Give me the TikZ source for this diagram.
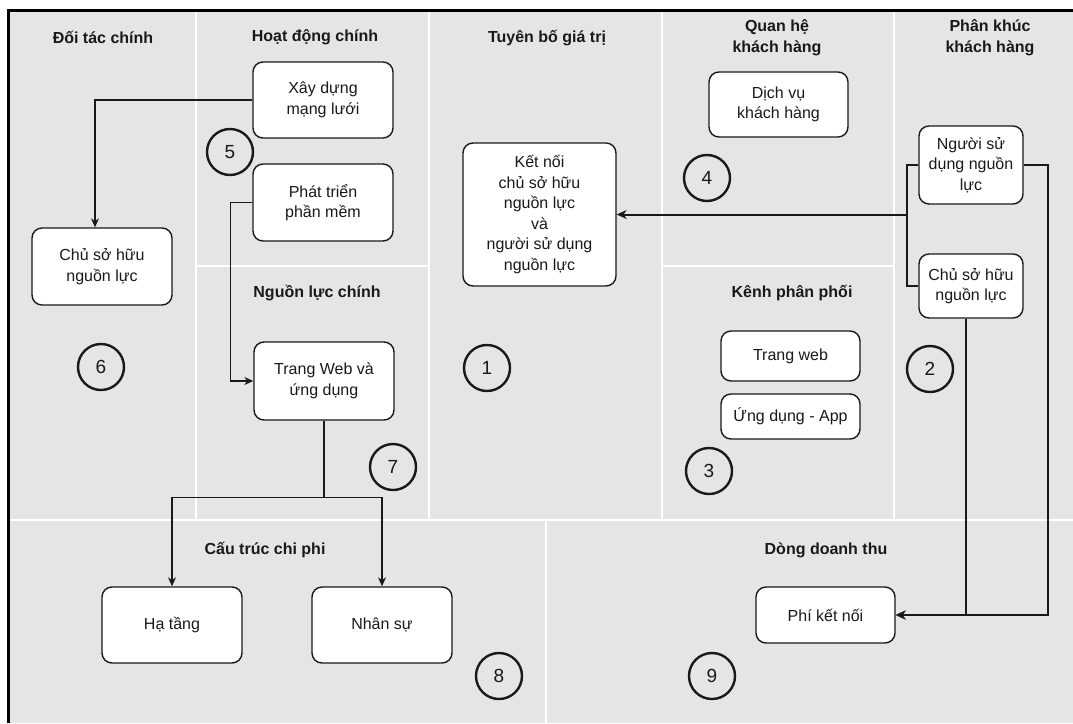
\documentclass[tikz,border=0pt]{standalone}
\usepackage{fontspec}
\setmainfont{Liberation Sans}
\usetikzlibrary{arrows.meta}
\definecolor{panel}{RGB}{229,229,229}
\definecolor{ink}{RGB}{25,25,25}
\tikzset{
  box/.style={draw=ink, fill=white, rounded corners=10pt, line width=1.4pt, align=center, inner sep=0pt, text=ink, font=\fontsize{16}{20.5}\selectfont},
  num/.style={draw=ink, circle, line width=2.4pt, minimum size=46pt, inner sep=0pt, text=ink, font=\fontsize{19}{22}\selectfont},
  ttl/.style={align=center, text=ink, font=\bfseries\fontsize{16}{21}\selectfont},
  sep/.style={white, line width=1.5pt},
  conn/.style={draw=ink, line width=1.3pt, -{Stealth[length=9pt,width=8pt]}},
  thickconn/.style={draw=ink, line width=2pt, -{Stealth[length=10pt,width=9pt]}},
  plain/.style={draw=ink, line width=2pt}
}
\begin{document}
\begin{tikzpicture}[x=1pt,y=-1pt]
\useasboundingbox (0,0) rectangle (1073,723);
\fill[white] (0,0) rectangle (1073,723);
\fill[panel] (8,10) rectangle (1073,723);
% separators
\draw[sep] (196,10) -- (196,520);
\draw[sep] (429,10) -- (429,520);
\draw[sep] (662,10) -- (662,520);
\draw[sep] (894,10) -- (894,520);
\draw[sep] (196,266) -- (429,266);
\draw[sep] (662,266) -- (894,266);
\draw[sep] (8,520) -- (1073,520);
\draw[sep] (546,520) -- (546,723);
% frame
\draw[black, line width=3pt] (8,723) -- (8,10) -- (1073,10);
% titles
\node[ttl] (t1) at (103,37) {Đối tác chính};
\node[ttl] (t2) at (315,37) {Hoạt động chính};
\node[ttl] (t3) at (547,38) {Tuyên bố giá trị};
\node[ttl] (t4) at (777,37.5) {Quan hệ\\khách hàng};
\node[ttl] (t5) at (990,37.5) {Phân khúc\\khách hàng};
\node[ttl] (t6) at (317,293) {Nguồn lực chính};
\node[ttl] (t7) at (792,293) {Kênh phân phối};
\node[ttl] (t8) at (265,550) {Cấu trúc chi phi};
\node[ttl] (t9) at (826,550) {Dòng doanh thu};
% boxes
\node[box, minimum width=140pt, minimum height=76pt] (xd) at (323,100) {Xây dựng\\mạng lưới};
\node[box, minimum width=140pt, minimum height=77pt] (pt) at (323,202.5) {Phát triển\\phần mềm};
\node[box, minimum width=140pt, minimum height=77pt] (chu1) at (102,266.5) {Chủ sở hữu\\nguồn lực};
\node[box, minimum width=140pt, minimum height=78pt] (tw) at (324,381) {Trang Web và\\ứng dụng};
\node[box, minimum width=140pt, minimum height=76pt] (ht) at (172,625) {Hạ tầng};
\node[box, minimum width=140pt, minimum height=76pt] (ns) at (382,625) {Nhân sự};
\node[box, minimum width=153pt, minimum height=143pt] (kn) at (539.5,214.5) {Kết nối\\chủ sở hữu\\nguồn lực\\và\\người sử dụng\\nguồn lực};
\node[box, minimum width=139pt, minimum height=65pt] (dv) at (778.5,104.5) {Dịch vụ\\khách hàng};
\node[box, minimum width=104pt, minimum height=78pt] (nsd) at (971,165) {Người sử\\dụng nguồn\\lực};
\node[box, minimum width=104pt, minimum height=64pt] (csh2) at (971,286) {Chủ sở hữu\\nguồn lực};
\node[box, minimum width=139pt, minimum height=50pt] (web) at (790.5,356) {Trang web};
\node[box, minimum width=139pt, minimum height=45pt] (app) at (790.5,416.5) {Ứng dụng - App};
\node[box, minimum width=139pt, minimum height=56pt] (pk) at (825.5,615) {Phí kết nối};
% numbers
\node[num] (n5) at (230,152) {5};
\node[num] (n4) at (707,178) {4};
\node[num] (n6) at (101,367) {6};
\node[num] (n1) at (487,368) {1};
\node[num] (n7) at (393,467) {7};
\node[num] (n8) at (499,676) {8};
\node[num] (n2) at (930,369) {2};
\node[num] (n3) at (709,471) {3};
\node[num] (n9) at (712,676) {9};
% connectors
\draw[conn] (xd.west) -| ([xshift=-7pt]chu1.north);
\draw[conn] (pt.west) -- ++(-22,0) |- (tw.west);
\draw[conn] (tw.south) -- ++(0,77) -| (ht.north);
\draw[conn] (tw.south) -- ++(0,77) -| (ns.north);
\draw[plain] (nsd.west) -- ++(-11,0) |- (csh2.west);
\draw[thickconn] ([xshift=-11pt]nsd.west |- kn.east) -- (kn.east);
\draw[thickconn] (nsd.east) -- ++(24,0) |- (pk.east);
\draw[thickconn] ([xshift=-5pt]csh2.south) |- (pk.east);
\end{tikzpicture}
\end{document}
